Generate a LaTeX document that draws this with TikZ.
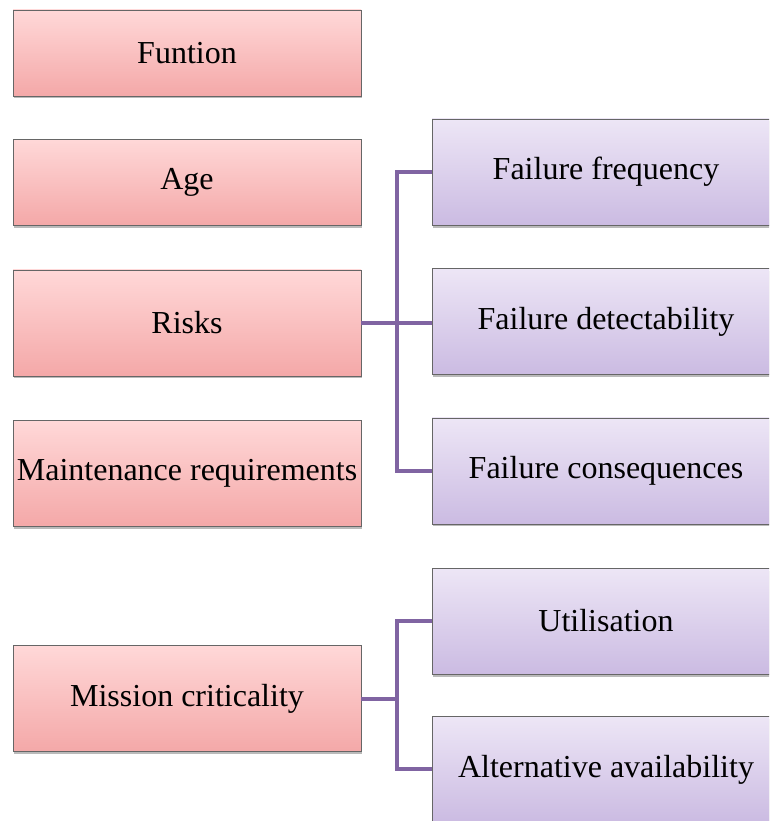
\documentclass[tikz,border=0pt]{standalone}
\usepackage{fontspec}
\setmainfont{LiberationSerif}[Extension=.ttf,UprightFont=*-Regular,BoldFont=*-Bold]
\usetikzlibrary{positioning,shadows,calc}
\definecolor{linkpurple}{RGB}{128,100,162}
\definecolor{pinktop}{RGB}{255,216,216}
\definecolor{pinkbottom}{RGB}{244,168,168}
\definecolor{lilactop}{RGB}{237,230,246}
\definecolor{lilacbottom}{RGB}{203,187,226}
\begin{document}
\begin{tikzpicture}[x=1pt,y=1pt]

		\tikzstyle{factor}=[rectangle,
			draw=black!60,
			top color=pinktop,bottom color=pinkbottom,
			minimum height=106pt,minimum width=348pt,
			align=center,inner sep=0mm,
			font=\fontsize{32}{36}\selectfont,
			drop shadow={shadow xshift=1pt,shadow yshift=-2.5pt,
				fill=black!60,opacity=0.45}]
		\tikzstyle{subfactor}=[factor,
			top color=lilactop,bottom color=lilacbottom]
		\tikzstyle{link}=[draw=linkpurple,line width=4pt]

		\useasboundingbox (0,0) rectangle (769,-821);
		\clip (0,0) rectangle (769,-821);

		\node[factor,minimum height=86pt] at (187,-53)	(funtion)	{Funtion};
		\node[factor,minimum height=86pt,below=43pt of funtion]	(age)	{Age};
		\node[factor,below=44pt of age]	(risks)	{Risks};
		\node[factor,below=44pt of risks]	(maint)	{Maintenance requirements};
		\node[factor,below=119pt of maint]	(mission)	{Mission criticality};

		\node[subfactor] at (606,-172)	(freq)	{Failure frequency};
		\node[subfactor,below=43pt of freq]	(detect)	{Failure detectability};
		\node[subfactor,below=43pt of detect]	(conseq)	{Failure consequences};
		\node[subfactor] at (606,-621)	(util)	{Utilisation};
		\node[subfactor,below=42pt of util]	(altav)	{Alternative availability};

		\coordinate (rbus) at ($(risks.east)!0.5!(risks.east -| detect.west)$);
		\coordinate (mbus) at (mission.east -| rbus);

		\draw[link]	(risks.east)	--	(rbus -| detect.west);
		\draw[link]	(freq.west)	-|	(rbus)	|-	(conseq.west);

		\draw[link]	(mission.east)	--	(mbus);
		\draw[link]	(util.west)	-|	(mbus)	|-	(altav.west);

	\end{tikzpicture}
\end{document}
